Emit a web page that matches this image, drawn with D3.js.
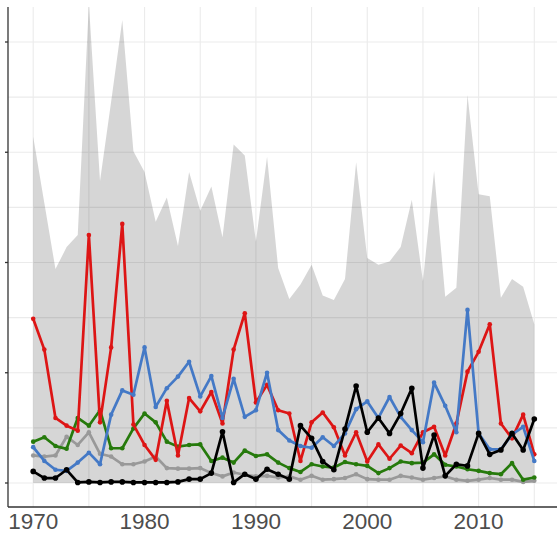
<!DOCTYPE html>
<html>
<head>
<meta charset="utf-8">
<script src="https://cdn.jsdelivr.net/npm/d3@7"></script>
<style>
    body { margin: 0; background: #fff; }
    .tick-label { font-family: "Liberation Sans", Arial, sans-serif; font-size: 22.5px; fill: #4d4d4d; }
</style>
</head>
<body>
<div id="chart"></div>
<script>

var years = d3.range(1970, 2016);

// grey band (total)
var totalValues = [31.4, 25.4, 19.4, 21.4, 22.5, 43.5, 27.4, 34.6, 42.0, 30.1,
    28.2, 23.7, 25.9, 21.5, 28.2, 24.7, 26.9, 22.3, 30.7, 29.7,
    21.9, 29.6, 19.5, 16.7, 18.0, 19.8, 17.0, 16.6, 18.5, 29.1,
    20.4, 19.8, 20.1, 21.4, 25.7, 18.3, 28.3, 16.9, 17.7, 35.2,
    26.2, 26.0, 16.8, 18.5, 17.8, 14.4];

var redValues = [14.9, 12.1, 5.9, 5.2, 4.75, 22.5, 5.5, 12.3, 23.5, 5.3,
    3.45, 2.1, 7.45, 2.5, 7.7, 6.5, 8.25, 5.4, 12.1, 15.4,
    7.3, 8.9, 6.6, 6.3, 2.0, 5.5, 6.4, 5.05, 2.5, 4.6,
    1.95, 3.5, 2.2, 3.4, 2.7, 4.6, 5.1, 2.5, 5.4, 10.1,
    11.9, 14.4, 5.4, 4.05, 6.2, 2.6];

var blueValues = [3.25, 2.0, 1.2, 1.1, 1.85, 2.75, 1.7, 6.2, 8.4, 8.0,
    12.3, 6.9, 8.6, 9.65, 11.0, 7.85, 9.7, 5.9, 9.45, 6.0,
    6.6, 10.0, 4.8, 3.85, 3.35, 3.2, 4.15, 3.35, 4.5, 6.7,
    7.4, 5.9, 7.8, 6.0, 4.8, 3.7, 9.1, 7.0, 4.6, 15.7,
    4.5, 3.05, 3.05, 4.4, 5.1, 2.0];

var greenValues = [3.75, 4.15, 3.35, 3.1, 5.9, 5.2, 6.6, 3.15, 3.15, 4.95,
    6.3, 5.5, 3.75, 3.3, 3.45, 3.5, 2.0, 2.3, 1.85, 2.95,
    2.45, 2.6, 1.85, 1.35, 1.0, 1.7, 1.5, 1.4, 1.9, 1.7,
    1.55, 0.9, 1.35, 1.95, 1.8, 1.85, 2.6, 1.65, 1.5, 1.25,
    1.1, 0.9, 0.8, 1.8, 0.3, 0.5];

var greyValues = [2.5, 2.4, 2.5, 4.2, 3.45, 4.6, 2.65, 2.4, 1.7, 1.7,
    1.95, 2.4, 1.35, 1.3, 1.3, 1.35, 0.9, 0.6, 0.95, 0.75,
    0.6, 0.65, 0.5, 0.6, 0.3, 0.65, 0.3, 0.35, 0.45, 0.8,
    0.35, 0.3, 0.3, 0.65, 0.5, 0.3, 0.45, 0.6, 0.3, 0.2,
    0.3, 0.45, 0.3, 0.3, 0.1, 0.2];

var blackValues = [1.05, 0.45, 0.45, 1.2, 0.05, 0.1, 0.05, 0.1, 0.1, 0.05,
    0.05, 0.05, 0.05, 0.1, 0.35, 0.35, 0.9, 4.65, 0.05, 0.8,
    0.35, 1.25, 0.8, 0.35, 5.2, 4.05, 1.95, 1.2, 4.9, 8.8,
    4.6, 5.9, 4.5, 6.3, 8.6, 1.35, 4.35, 0.65, 1.7, 1.55,
    4.5, 2.6, 3.0, 4.5, 3.0, 5.8];

var xTickLabels = [1970, 1980, 1990, 2000, 2010];
var yTicks = [0, 10, 20, 30, 40];

var width = 557, height = 535;
var panel = { left: 8, top: 7, right: 557, bottom: 507 };

var svg = d3.select("#chart").append("svg")
    .attr("width", width)
    .attr("height", height);

var x = d3.scaleLinear()
    .domain([1970, 2015])
    .range([33.2, 534.3]);

var y = d3.scaleLinear()
    .domain([0, 40])
    .range([483, 42]);

svg.append("clipPath").attr("id", "panel-clip")
    .append("rect")
    .attr("x", panel.left)
    .attr("y", panel.top)
    .attr("width", panel.right - panel.left)
    .attr("height", panel.bottom - panel.top);

// grid, major + minor look the same here
var grid = svg.append("g").attr("clip-path", "url(#panel-clip)");

grid.selectAll("line.vgrid")
    .data(d3.range(1965, 2021, 5))
    .enter().append("line")
    .attr("class", "vgrid")
    .attr("x1", x).attr("x2", x)
    .attr("y1", panel.top).attr("y2", panel.bottom)
    .attr("stroke", "#ebebeb")
    .attr("stroke-width", 1.1);

grid.selectAll("line.hgrid")
    .data(d3.range(0, 46, 5))
    .enter().append("line")
    .attr("class", "hgrid")
    .attr("x1", panel.left).attr("x2", panel.right)
    .attr("y1", y).attr("y2", y)
    .attr("stroke", "#ebebeb")
    .attr("stroke-width", 1.1);

var plot = svg.append("g").attr("clip-path", "url(#panel-clip)");

var area = d3.area()
    .x(function (d, i) { return x(years[i]); })
    .y0(y(0))
    .y1(function (d) { return y(d); });

plot.append("path")
    .datum(totalValues)
    .attr("d", area)
    .attr("fill", "#000")
    .attr("fill-opacity", 0.16);

var series = [
    { values: greyValues, color: "#999999", r: 2.3 },
    { values: greenValues, color: "#267a0c", r: 2.3 },
    { values: redValues, color: "#dd1515", r: 2.3 },
    { values: blueValues, color: "#4479c6", r: 2.3 },
    { values: blackValues, color: "#000000", r: 2.8 }
];

var line = d3.line()
    .x(function (d, i) { return x(years[i]); })
    .y(function (d) { return y(d); });

series.forEach(function (s) {
    plot.append("path")
        .datum(s.values)
        .attr("d", line)
        .attr("fill", "none")
        .attr("stroke", s.color)
        .attr("stroke-width", 2.7)
        .attr("stroke-linejoin", "round");

    plot.selectAll(null)
        .data(s.values)
        .enter().append("circle")
        .attr("cx", function (d, i) { return x(years[i]); })
        .attr("cy", function (d) { return y(d); })
        .attr("r", s.r)
        .attr("fill", s.color);
});

// axis lines
svg.append("line")
    .attr("x1", panel.left).attr("x2", panel.left)
    .attr("y1", panel.top).attr("y2", panel.bottom)
    .attr("stroke", "#333").attr("stroke-width", 1.3);

svg.append("line")
    .attr("x1", panel.left).attr("x2", panel.right)
    .attr("y1", panel.bottom).attr("y2", panel.bottom)
    .attr("stroke", "#333").attr("stroke-width", 1.3);

// y ticks (no labels)
svg.selectAll("line.ytick")
    .data(yTicks)
    .enter().append("line")
    .attr("class", "ytick")
    .attr("x1", panel.left - 3).attr("x2", panel.left)
    .attr("y1", y).attr("y2", y)
    .attr("stroke", "#333").attr("stroke-width", 1.3);

svg.selectAll("text.tick-label")
    .data(xTickLabels)
    .enter().append("text")
    .attr("class", "tick-label")
    .attr("x", x)
    .attr("y", 529)
    .attr("text-anchor", "middle")
    .text(String);

</script>
</body>
</html>
